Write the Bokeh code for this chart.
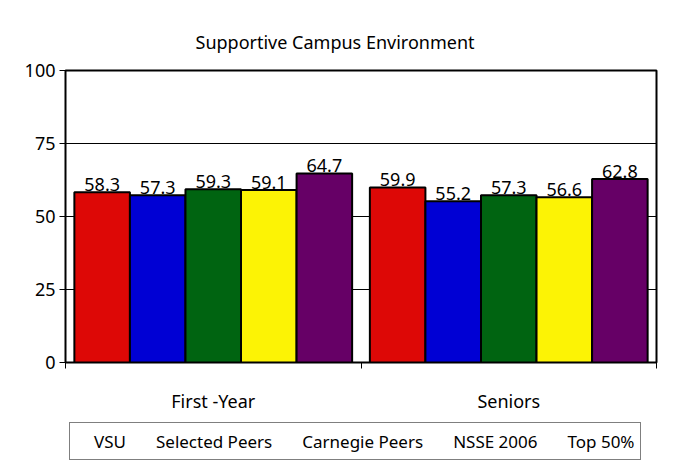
from bokeh.plotting import figure
from bokeh.layouts import column
from bokeh.models import (ColumnDataSource, Range1d, LinearAxis, CDSView, IndexFilter,
                          FixedTicker, Legend, LegendItem)
from bokeh.transform import dodge
from bokeh.core.properties import value
from bokeh.embed import file_html
from bokeh.resources import INLINE

groups = ["First -Year", "Seniors"]
series = ["VSU", "Selected Peers", "Carnegie Peers", "NSSE 2006", "Top 50%"]
vsu = [58.3, 59.9]
selected_peers = [57.3, 55.2]
carnegie_peers = [59.3, 57.3]
nsse_2006 = [59.1, 56.6]
top_50 = [64.7, 62.8]
y_ticks = [0, 25, 50, 75, 100]
colors = ["#DD0806", "#0000D4", "#006411", "#FCF305", "#660066"]

FONT = "Noto Sans"
FS = "18px"
n = len(groups)
centers = [i + 0.5 for i in range(n)]      # category slot centres on the x scale
edges = [float(i) for i in range(n + 1)]   # category slot boundaries
keys = ["s0", "s1", "s2", "s3", "s4"]
vals = [vsu, selected_peers, carnegie_peers, nsse_2006, top_50]
data = {"xc": centers}
for k, v in zip(keys, vals):
    data[k] = v
    data[k + "_lbl"] = [f"{x:.1f}" for x in v]
src = ColumnDataSource(data)

p = figure(x_range=Range1d(0, n), y_range=Range1d(0, 100),
           width=676, height=415, output_backend="svg", toolbar_location=None,
           x_axis_location=None, title="Supportive Campus Environment",
           min_border_left=65, min_border_right=20, min_border_top=70,
           min_border_bottom=50)
p.background_fill_color = "white"
p.border_fill_color = "white"
p.outline_line_color = "black"
p.outline_line_width = 2

p.title.align = "left"
p.title.text_font = FONT
p.title.text_font_size = FS
p.title.text_font_style = "normal"
p.title.text_color = "black"
p.title.offset = 130
p.title.standoff = 34

# y axis
yax = p.yaxis[0]
yax.ticker = FixedTicker(ticks=y_ticks)
yax.major_label_text_font = FONT
yax.major_label_text_font_size = FS
yax.major_label_text_color = "black"
yax.axis_line_color = "black"
yax.axis_line_width = 1
yax.major_tick_out = 6
yax.major_tick_in = 0
yax.minor_tick_line_color = None
yax.major_tick_line_color = "black"
yax.major_label_standoff = 4

p.ygrid.ticker = FixedTicker(ticks=y_ticks)
p.ygrid.grid_line_color = "black"
p.ygrid.grid_line_width = 1
p.xgrid.visible = False

# boundary ticks
tax = LinearAxis(ticker=FixedTicker(ticks=edges),
                 major_label_overrides={e: " " for e in edges},
                 major_label_text_font_size="2px", major_tick_out=6, major_tick_in=0,
                 minor_tick_line_color=None, axis_line_color="black",
                 major_tick_line_color="black", major_label_standoff=0)
p.add_layout(tax, "below")

# category labels
cax = LinearAxis(ticker=FixedTicker(ticks=centers),
                 major_label_overrides={c: g for c, g in zip(centers, groups)},
                 axis_line_color=None, major_tick_line_color=None,
                 minor_tick_line_color=None,
                 major_label_text_font=FONT, major_label_text_font_size=FS,
                 major_label_text_color="black", major_label_standoff=9)
p.add_layout(cax, "below")

bw = 0.188
for i, k in enumerate(keys):
    off = (i - 2) * bw
    p.vbar(x=dodge("xc", off), top=k, width=bw, source=src,
           fill_color=colors[i], line_color="black", line_width=2)
    p.text(x=dodge("xc", off), y=dodge(k, 2.7, range=p.y_range), text=k + "_lbl",
           source=src, text_align="center", text_baseline="alphabetic",
           text_font=value(FONT), text_font_size=FS, text_color="black")

# legend strip: its bar renderers draw nothing (empty view), only the legend shows
p2 = figure(x_range=Range1d(0, n), y_range=Range1d(200, 201),
            width=676, height=53, output_backend="svg", toolbar_location=None,
            x_axis_location=None, y_axis_location=None, min_border=0)
p2.outline_line_color = None
p2.background_fill_color = "white"
p2.border_fill_color = "white"
p2.xgrid.visible = False
p2.ygrid.visible = False
items = []
for i, (k, name) in enumerate(zip(keys, series)):
    off = (i - 2) * bw
    r = p2.vbar(x=dodge("xc", off), top=k, width=bw, source=src,
                view=CDSView(filter=IndexFilter(indices=[])),
                fill_color=colors[i], line_color="black", line_width=2)
    items.append(LegendItem(label=name, renderers=[r]))

legend = Legend(items=items, orientation="horizontal", location=(4, 8),
                border_line_color="black", border_line_width=1,
                background_fill_color="white", background_fill_alpha=1,
                label_text_font=FONT, label_text_font_size="17px",
                label_text_color="black", glyph_width=15, glyph_height=17,
                label_height=24, spacing=12, padding=6, margin=0, label_standoff=3)
p2.add_layout(legend, "center")

layout = column(p, p2, spacing=0)
open("out.html", "w").write(file_html(layout, INLINE))
